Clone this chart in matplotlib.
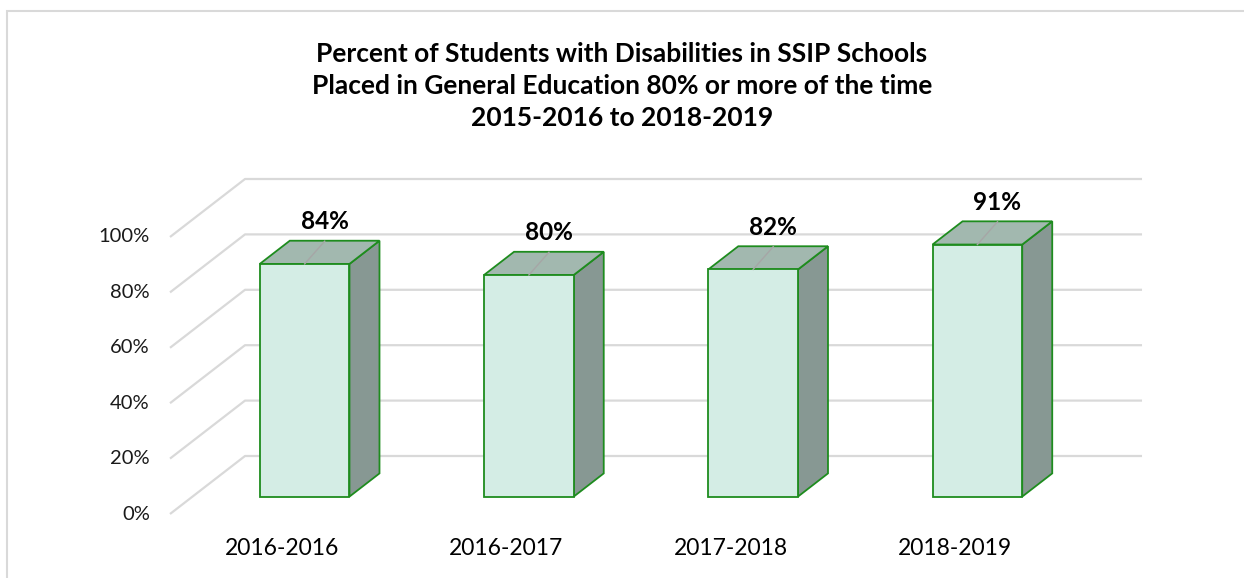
import matplotlib.pyplot as plt
from matplotlib.patches import Polygon, Rectangle

plt.rcParams['font.family'] = ['Lato', 'DejaVu Sans']

categories = ['2016-2016', '2016-2017', '2017-2018', '2018-2019']
values = [84, 80, 82, 91]
yticks = [0, 20, 40, 60, 80, 100]
title = ('Percent of Students with Disabilities in SSIP Schools\n'
         'Placed in General Education 80% or more of the time\n'
         '2015-2016 to 2018-2019')

# fake 3d: depth shift in data units
DX = 0.3345
DY = 20.94
half_w = 0.2
d0, d1 = 0.3, 0.7

def proj(x, y, d):
    return (x + d * DX, y + d * DY)

fig = plt.figure(figsize=(12.44, 5.78), dpi=100)
ax = fig.add_axes([0, 0, 1, 1])
ax.set_xlim(-170 / 224.25, (1244 - 170) / 224.25)
ax.set_ylim(-(578 - 514) / 2.77, 514 / 2.77)
ax.axis('off')

grid_c = '#D9D9D9'
n = len(categories)
for t in yticks:
    # side wall diagonal and back wall line
    xs, ys = zip(proj(0, t, 0), proj(0, t, 1), proj(n, t, 1))
    ax.plot(xs, ys, color=grid_c, lw=1.6, zorder=1, solid_capstyle='butt')
    ax.text(-0.09, t, f'{t}%', ha='right', va='center', fontsize=14.5, color='#1a1a1a')

edge = '#1E8C1E'
for i, (cat, v) in enumerate(zip(categories, values)):
    c = i + 0.5
    l, r = c - half_w, c + half_w
    front = [proj(l, 0, d0), proj(r, 0, d0), proj(r, v, d0), proj(l, v, d0)]
    side = [proj(r, 0, d0), proj(r, 0, d1), proj(r, v, d1), proj(r, v, d0)]
    top = [proj(l, v, d0), proj(r, v, d0), proj(r, v, d1), proj(l, v, d1)]
    ax.add_patch(Polygon(side, closed=True, fc='#879893', ec=edge, lw=1.3, zorder=3))
    ax.add_patch(Polygon(top, closed=True, fc='#A2B8AF', ec=edge, lw=1.3, zorder=3))
    ax.add_patch(Polygon(front, closed=True, fc='#D4EDE5', ec=edge, lw=1.3, zorder=4))

    lx, ly = c + 0.19, v + 21.5
    ax.text(lx, ly, f'{v}%', ha='center', va='center', fontsize=17.5,
            fontweight='bold', color='black', zorder=6)
    fx, fy = proj(c, v, d0)
    ax.plot([lx, fx], [ly - 7, fy], color='#A6A6A6', lw=1, zorder=5)

    ax.text(c, -12.6, cat, ha='center', va='center', fontsize=16.5, color='black')

fig.text(0.5, 1 - 86 / 578, title, ha='center', va='center', fontsize=19,
         fontweight='bold', linespacing=1.42)

fig.patches.append(Rectangle((7 / 1244, -0.1), 1.2, 1.1 - 11 / 578 ,
                             transform=fig.transFigure, fill=False,
                             ec=grid_c, lw=1.5))

fig.savefig('out.png', dpi=100)
